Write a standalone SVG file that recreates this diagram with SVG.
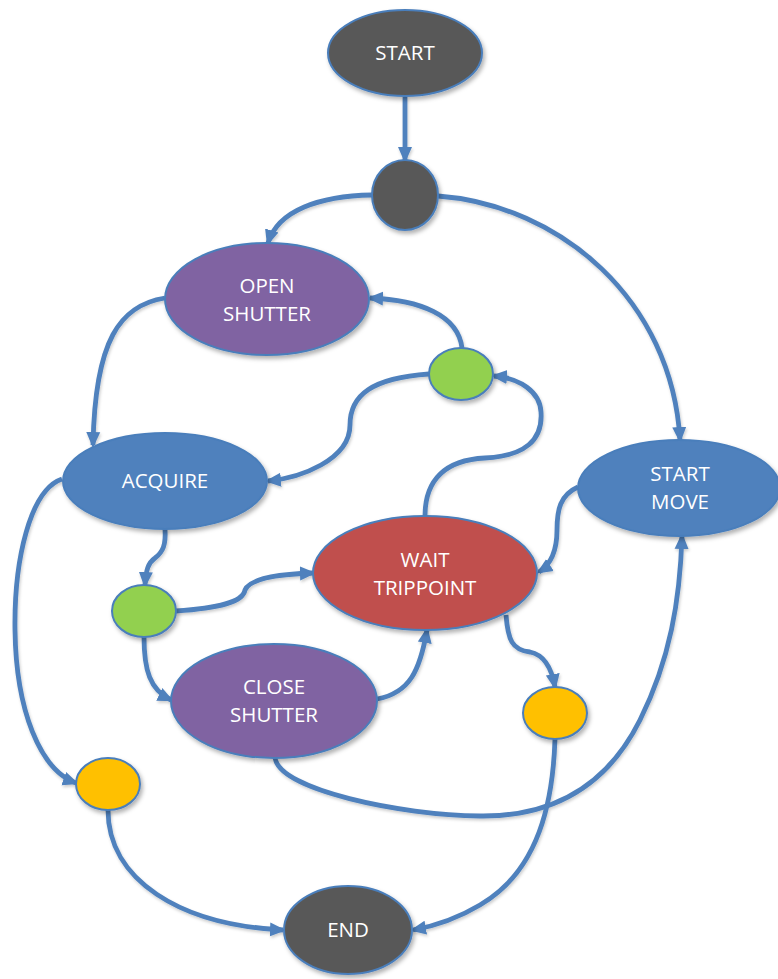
<svg xmlns="http://www.w3.org/2000/svg" width="778" height="979" viewBox="0 0 778 979">
  <defs>
    <filter id="shadow" x="-20%" y="-20%" width="140%" height="150%">
      <feDropShadow dx="2" dy="3" stdDeviation="2" flood-color="#000" flood-opacity="0.3"/>
    </filter>
    <filter id="lineShadow" x="-10%" y="-10%" width="120%" height="120%">
      <feDropShadow dx="1" dy="2" stdDeviation="1.5" flood-color="#000" flood-opacity="0.2"/>
    </filter>
    <marker id="arrow" markerUnits="userSpaceOnUse" markerWidth="16" markerHeight="16" refX="13" refY="8" orient="auto">
      <path d="M0,1 L16,8 L0,15 z" fill="#4F81BD"/>
    </marker>
    <style>
      .node { stroke: #4A7EBB; stroke-width: 2; filter: url(#shadow); }
      .dark { fill: #595959; }
      .purple { fill: #8064A2; }
      .blue { fill: #4F81BD; }
      .red { fill: #C0504D; }
      .green { fill: #92D050; }
      .yellow { fill: #FFC000; }
      .label { font-family: "Open Sans", "Liberation Sans", sans-serif; font-size: 20.5px; fill: #FFFFFF; text-anchor: middle; }
      .edge { fill: none; stroke: #4F81BD; stroke-width: 4.8; marker-end: url(#arrow); }
    </style>
  </defs>

  <rect width="778" height="979" fill="#FFFFFF"/>

  <!-- connectors -->
  <g id="connectors" filter="url(#lineShadow)">
    <path class="edge" d="M405,97 L405,160"/>
    <path class="edge" d="M372,195 C320,196 278,210 268,243"/>
    <path class="edge" d="M438,196 C560,205 672,300 680,440"/>
    <path class="edge" d="M165,298 C120,305 95,340 93,445"/>
    <path class="edge" d="M462,348 C458,315 420,300 370,298"/>
    <path class="edge" d="M429,374 C372,378 350,395 350,425 C350,460 300,478 268,481"/>
    <path class="edge" d="M425,516 C425,480 445,460 485,458 C525,456 543,440 541,412 C540,392 520,378 494,376"/>
    <path class="edge" d="M578,487 C560,495 557,510 557,530 C557,552 550,565 539,572"/>
    <path class="edge" d="M165,529 C166,545 163,552 155,558 C148,563 146,570 145,585"/>
    <path class="edge" d="M176,611 C220,608 243,602 245,590 C250,578 280,574 313,573"/>
    <path class="edge" d="M144,637 C144,670 150,690 171,700"/>
    <path class="edge" d="M377,699 C410,693 420,670 427,630"/>
    <path class="edge" d="M506,615 C508,640 512,650 530,652 C545,655 552,670 555,687"/>
    <path class="edge" d="M275,758 C280,790 400,815 480,816 C560,817 610,780 640,720 C670,660 680,600 682,536"/>
    <path class="edge" d="M555,739 C553,800 540,870 480,905 C460,917 440,925 413,930"/>
    <path class="edge" d="M62,479 C30,490 14,560 15,630 C16,710 40,770 76,783"/>
    <path class="edge" d="M108,810 C108,880 180,925 283,930"/>
  </g>

  <!-- nodes -->
  <g id="start">
    <ellipse class="node dark" cx="405" cy="53" rx="77" ry="43"/>
    <text class="label" x="405" y="60">START</text>
  </g>
  <g id="fork">
    <ellipse class="node dark" cx="405" cy="195" rx="33" ry="35"/>
  </g>
  <g id="open-shutter">
    <ellipse class="node purple" cx="267" cy="299" rx="102" ry="56"/>
    <text class="label" x="267" y="293">OPEN</text>
    <text class="label" x="267" y="321">SHUTTER</text>
  </g>
  <g id="choice-open">
    <ellipse class="node green" cx="461" cy="374" rx="32" ry="26"/>
  </g>
  <g id="acquire">
    <ellipse class="node blue" cx="165" cy="481" rx="102" ry="48"/>
    <text class="label" x="165" y="488">ACQUIRE</text>
  </g>
  <g id="start-move">
    <ellipse class="node blue" cx="679" cy="488" rx="101" ry="48"/>
    <text class="label" x="680" y="481">START</text>
    <text class="label" x="680" y="509">MOVE</text>
  </g>
  <g id="wait-trippoint">
    <ellipse class="node red" cx="425" cy="573" rx="112" ry="57"/>
    <text class="label" x="425" y="567">WAIT</text>
    <text class="label" x="425" y="595">TRIPPOINT</text>
  </g>
  <g id="choice-acquire">
    <ellipse class="node green" cx="144" cy="611" rx="32" ry="26"/>
  </g>
  <g id="close-shutter">
    <ellipse class="node purple" cx="274" cy="701" rx="103" ry="57"/>
    <text class="label" x="274" y="694">CLOSE</text>
    <text class="label" x="274" y="722">SHUTTER</text>
  </g>
  <g id="merge-right">
    <ellipse class="node yellow" cx="555" cy="713" rx="32" ry="26"/>
  </g>
  <g id="merge-left">
    <ellipse class="node yellow" cx="108" cy="784" rx="32" ry="26"/>
  </g>
  <g id="end">
    <ellipse class="node dark" cx="348" cy="930" rx="64" ry="44"/>
    <text class="label" x="348" y="937">END</text>
  </g>
</svg>
